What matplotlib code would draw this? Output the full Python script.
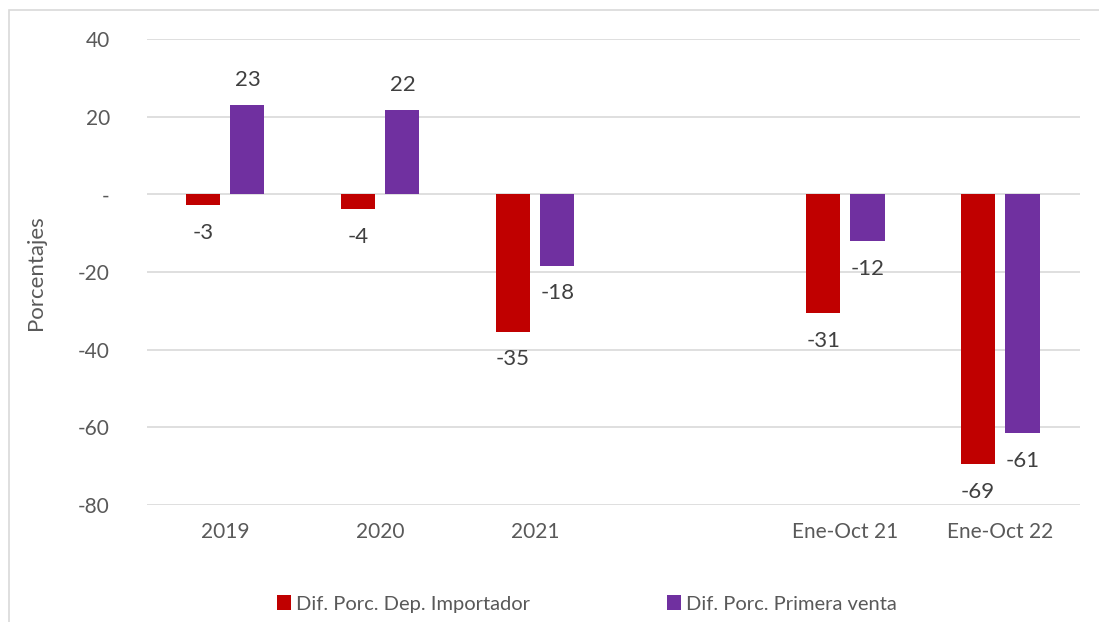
import numpy as np
import matplotlib.pyplot as plt
from matplotlib.patches import Rectangle

plt.rcParams['font.family'] = ['Lato', 'DejaVu Sans']

categorias = ['2019', '2020', '2021', '', 'Ene-Oct 21', 'Ene-Oct 22']
dep_importador = [-2.8, -3.7, -35.3, np.nan, -30.6, -69.4]
primera_venta = [23.0, 21.8, -18.3, np.nan, -12.1, -61.4]
serie_nombres = ['Dif. Porc. Dep. Importador', 'Dif. Porc. Primera venta']
colores = ['#C00000', '#7030A0']
gris = '#595959'

fig = plt.figure(figsize=(10.99, 6.22), dpi=100)
ax = fig.add_axes([0.134, 0.188, 0.849, 0.749])

# marco exterior del grafico
fig.patches.append(Rectangle((9 / 1099, -0.1), 1.2, 1.1 - 10 / 622,
                             transform=fig.transFigure, fill=False,
                             edgecolor='#D9D9D9', lw=1.2))

x = np.arange(len(categorias))
w = 0.22
off = 0.143
b1 = ax.bar(x - off, dep_importador, w, color=colores[0], label=serie_nombres[0], zorder=3)
b2 = ax.bar(x + off, primera_venta, w, color=colores[1], label=serie_nombres[1], zorder=3)

for bars, vals in [(b1, dep_importador), (b2, primera_venta)]:
    for rect, v in zip(bars, vals):
        if np.isnan(v):
            continue
        dy = 18 if v > 0 else -20
        ax.annotate(f'{round(v):.0f}', (rect.get_x() + rect.get_width() / 2, v),
                    xytext=(0, dy), textcoords='offset points',
                    ha='center', va='center', fontsize=16, color='#404040')

ax.set_ylim(-80, 40)
ax.set_xlim(-0.503, 5.516)
ax.set_yticks([40, 20, 0, -20, -40, -60, -80])
ax.set_yticklabels(['40', '20', '-', '-20', '-40', '-60', '-80'])
ax.set_xticks(x)
ax.set_xticklabels(categorias)
ax.tick_params(length=0, labelsize=15, colors=gris)
ax.tick_params(axis='y', pad=27)
ax.tick_params(axis='x', pad=12)
ax.grid(axis='y', color='#D9D9D9', lw=1.2, zorder=0)
for s in ax.spines.values():
    s.set_visible(False)
ax.set_ylabel('Porcentajes', fontsize=16, color=gris, labelpad=23)

fig.legend(loc='lower center', bbox_to_anchor=(0.534, -0.014), ncol=2, frameon=False,
           fontsize=14.5, labelcolor=gris, handlelength=0.7, handleheight=0.7,
           handletextpad=0.25, columnspacing=6.8)

fig.savefig('out.png', dpi=100)
